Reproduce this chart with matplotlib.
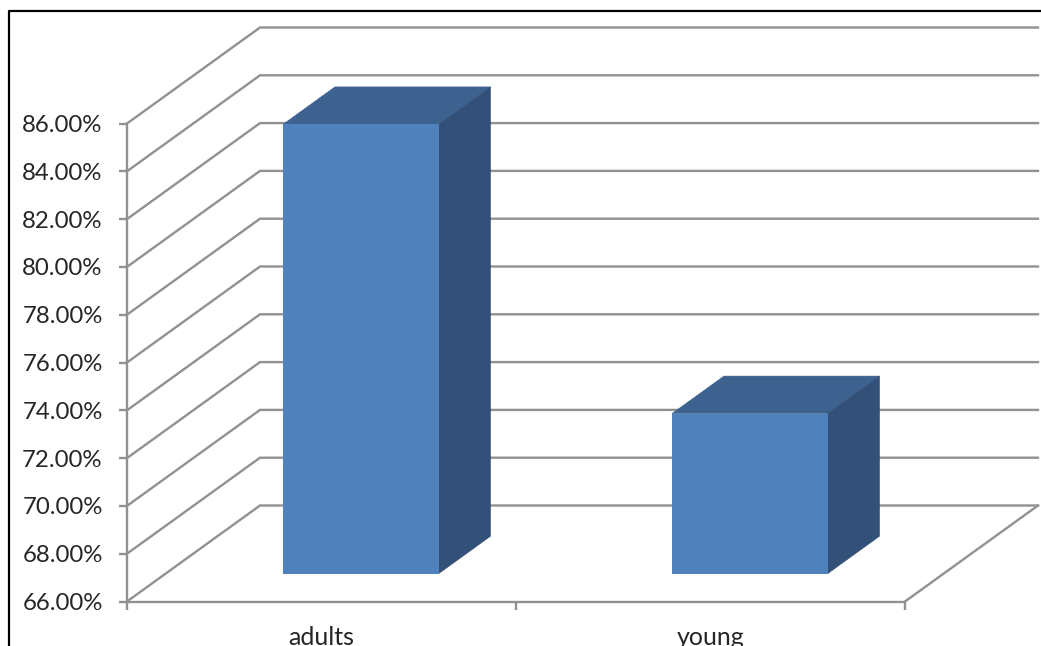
import matplotlib
matplotlib.use("Agg")
import matplotlib.pyplot as plt
from matplotlib.lines import Line2D

categories = ["adults", "young"]
values = [84.8, 72.7]
y_ticks = [66, 68, 70, 72, 74, 76, 78, 80, 82, 84, 86]

FRONT = "#4f81bd"
TOP = "#3d628f"
SIDE = "#325078"
GRID = "#919191"

# how far the back wall sits from the front plane, in data units
DX = 133 / 389.0
DY = 96 / 23.9
BAR_WIDTH = 0.4
BAR_SHIFT = 0.002
BAR_NEAR = 0.29
BAR_FAR = 0.68

W, H = 1041, 646
plt.rcParams["font.family"] = ["Lato", "DejaVu Sans"]

fig = plt.figure(figsize=(W / 100, H / 100), dpi=100)
ax = fig.add_axes([127 / W, 1 - 601.5 / H, 778 / W, 478 / H])
ax.set_xlim(0, len(categories))
ax.set_ylim(66, 86)
ax.patch.set_visible(False)
for name in ["top", "right"]:
    ax.spines[name].set_visible(False)
for name in ["bottom", "left"]:
    ax.spines[name].set_color(GRID)
    ax.spines[name].set_linewidth(1.7)


def depth(x, y, d):
    return x + d * DX, y + d * DY


# floor and wall gridlines
for t in y_ticks:
    x0, y0 = depth(0, t, 1)
    ax.plot([0, x0, 2 + DX], [t, y0, y0], color=GRID, lw=1.7, clip_on=False, zorder=1)
x1, y1 = depth(2, 66, 1)
ax.plot([2, x1], [66, y1], color=GRID, lw=1.7, clip_on=False, zorder=1)

# bars: side, top, then front face
for i, v in enumerate(values):
    l = i + 0.5 + BAR_SHIFT - BAR_WIDTH / 2
    r = i + 0.5 + BAR_SHIFT + BAR_WIDTH / 2
    a = depth(r, 66, BAR_NEAR)
    b = depth(r, v, BAR_NEAR)
    c = depth(r, v, BAR_FAR)
    d = depth(r, 66, BAR_FAR)
    e = depth(l, v, BAR_NEAR)
    f = depth(l, v, BAR_FAR)
    ax.fill([e[0], b[0], c[0], f[0]], [e[1], b[1], c[1], f[1]], fc=TOP, ec=TOP, lw=0.4, zorder=3, clip_on=False)
    ax.fill([a[0], b[0], c[0], d[0]], [a[1], b[1], c[1], d[1]], fc=SIDE, ec=SIDE, lw=0.4, zorder=3, clip_on=False)
    g = depth(l, 66, BAR_NEAR)
    ax.bar(g[0], v - 66, bottom=a[1], width=BAR_WIDTH, align="edge", color=FRONT, lw=0, zorder=4, clip_on=False)
ax.set_xlim(0, len(categories))
ax.set_ylim(66, 86)

ax.set_yticks(y_ticks)
ax.set_yticklabels(["%.2f%%" % t for t in y_ticks], fontsize=17.3, color="#262626")
ax.set_xticks(range(len(categories) + 1))
ax.set_xticklabels([""] * (len(categories) + 1))
ax.tick_params(axis="both", color=GRID, width=1.7, length=6)
ax.tick_params(axis="y", pad=11.5)
for i, name in enumerate(categories):
    ax.annotate(name, (i + 0.5, 66), xytext=(0, -17.5), textcoords="offset points",
                ha="center", va="top", fontsize=18, color="#262626", annotation_clip=False)

# black outline, running off the right and bottom edges
fig.add_artist(Line2D([9 / W, 9 / W, 1], [0, 1 - 11 / H, 1 - 11 / H], color="black", lw=1.6))

fig.savefig("out.png", dpi=100)
